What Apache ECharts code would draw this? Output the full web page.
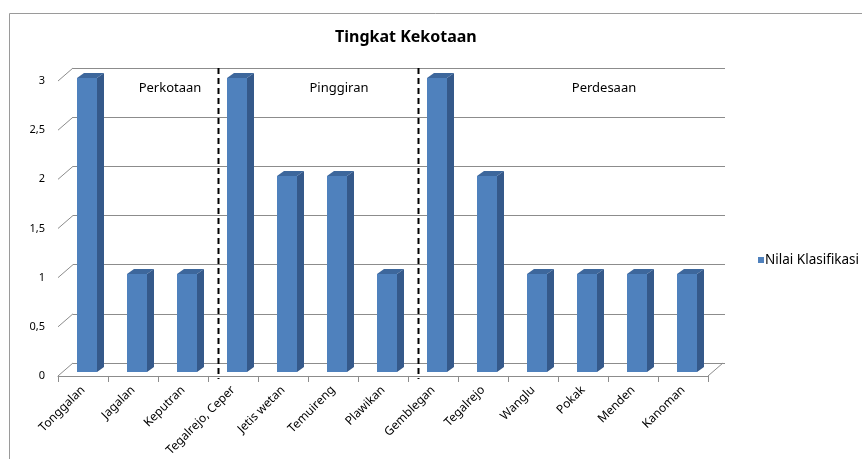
<!DOCTYPE html>
<html>
<head>
<meta charset="utf-8">
<script src="https://cdn.jsdelivr.net/npm/echarts@6/dist/echarts.min.js"></script>
<style>
html,body{margin:0;padding:0;background:#fff;}
#chart{width:862px;height:459px;}
</style>
</head>
<body>
<div id="chart"></div>
<script>
// ---- data ----
var categories = ['Tonggalan','Jagalan','Keputran','Tegalrejo, Ceper','Jetis wetan','Temuireng','Plawikan','Gemblegan','Tegalrejo','Wanglu','Pokak','Menden','Kanoman'];
var values = [3,1,1,3,2,2,1,3,2,1,1,1,1];
var seriesName = 'Nilai Klasifikasi';
var yTicks = [0,0.5,1,1.5,2,2.5,3];
var groupBoundaryAfter = [2, 6];          // dashed separator after these category indices
var groupNames = ['Perkotaan','Pinggiran','Perdesaan'];
var groupAnchorIndex = [2, 5, 10];
var groupAnchorShift = [-0.34, 0.04, 0.34];
var groupLabelValue = 2.9;
var chartTitle = 'Tingkat Kekotaan';

var FONT = '"Noto Sans", "Open Sans", sans-serif';
var DX = 7, DY = 5;       // bar depth
var WDX = 15, WDY = 13;   // wall depth

var chart = echarts.init(document.getElementById('chart'), null, {renderer:'canvas'});

var option = {
  animation: false,
  backgroundColor: '#ffffff',
  title: {
    text: chartTitle, left: 330, top: 24,
    textStyle: {fontFamily: FONT, fontSize: 16, fontWeight: 'bold', color: '#000'}
  },
  legend: {
    data: [seriesName], left: 753, top: 248, itemWidth: 6, itemHeight: 6, icon: 'rect',
    itemGap: 4,
    textStyle: {fontFamily: FONT, fontSize: 13.5, color: '#000', padding:[0,0,0,-4]}
  },
  graphic: [
    {type:'line', shape:{x1:9.5,y1:13.5,x2:862,y2:13.5}, style:{stroke:'#9a9a9a', lineWidth:1}, silent:true},
    {type:'line', shape:{x1:9.5,y1:13.5,x2:9.5,y2:459}, style:{stroke:'#9a9a9a', lineWidth:1}, silent:true}
  ],
  grid: [
    {left:73, top:68, width:652, height:295},   // back wall
    {left:62, top:78, width:650, height:294},   // bars (mid depth)
    {left:58, top:81, width:650, height:295}    // front plane axes
  ],
  xAxis: [
    {gridIndex:0, type:'category', data:categories, show:false},
    {gridIndex:1, type:'category', data:categories, show:false},
    {gridIndex:2, type:'category', data:categories,
      axisLine:{show:true, lineStyle:{color:'#8c8c8c', width:1}},
      axisTick:{show:true, length:6, lineStyle:{color:'#8c8c8c'}},
      axisLabel:{rotate:45, margin:12, fontFamily:FONT, fontSize:12, color:'#000', interval:0},
      splitLine:{show:false}}
  ],
  yAxis: [
    {gridIndex:0, type:'value', min:0, max:3, interval:0.5,
      axisLine:{show:false}, axisTick:{show:false}, axisLabel:{show:false},
      splitLine:{show:true, lineStyle:{color:'#8c8c8c', width:1}}},
    {gridIndex:1, type:'value', min:0, max:3, interval:0.5, show:false, splitLine:{show:false}},
    {gridIndex:2, type:'value', min:0, max:3, interval:0.5,
      axisLine:{show:false}, axisTick:{show:false}, splitLine:{show:false},
      axisLabel:{margin:13, fontFamily:FONT, fontSize:11, color:'#000',
        formatter:function(v){return String(v).replace('.', ',');}}}
  ],
  series: [
    // side walls / floor edges
    {type:'custom', name:'walls', xAxisIndex:2, yAxisIndex:2, silent:true, z:1,
      data: yTicks.map(function(v){return [0, v];}),
      renderItem: function(params, api){
        var cs = params.coordSys;
        var p = api.coord([0, api.value(1)]);
        var kids = [{type:'line', shape:{x1:cs.x, y1:p[1], x2:cs.x+WDX, y2:p[1]-WDY},
          style:{stroke:'#8c8c8c', lineWidth:1}}];
        if (api.value(1) === 0) {
          kids.push({type:'line', shape:{x1:cs.x+cs.width, y1:p[1], x2:cs.x+cs.width+WDX, y2:p[1]-WDY},
            style:{stroke:'#8c8c8c', lineWidth:1}});
        }
        return {type:'group', children:kids};
      }},
    // bars front face
    {type:'bar', name:seriesName, xAxisIndex:1, yAxisIndex:1, data:values, barWidth:20, z:3,
      itemStyle:{color:'#4F81BD'}},
    // bars side and top faces
    {type:'custom', name:'faces', xAxisIndex:1, yAxisIndex:1, silent:true, z:3,
      data: values.map(function(v,i){return [i, v];}),
      renderItem: function(params, api){
        var top = api.coord([api.value(0), api.value(1)]);
        var base = api.coord([api.value(0), 0]);
        var cx = top[0], hw = 10;
        return {type:'group', children:[
          {type:'polygon', shape:{points:[[cx+hw,top[1]],[cx+hw+DX,top[1]-DY],[cx+hw+DX,base[1]-DY],[cx+hw,base[1]]]},
            style:{fill:'#35598A'}},
          {type:'polygon', shape:{points:[[cx-hw,top[1]],[cx-hw+DX,top[1]-DY],[cx+hw+DX,top[1]-DY],[cx+hw,top[1]]]},
            style:{fill:'#3D679C'}}
        ]};
      }},
    // dashed group separators
    {type:'custom', name:'separators', xAxisIndex:1, yAxisIndex:1, silent:true, z:5,
      data: groupBoundaryAfter.map(function(i){return [i, 3];}),
      renderItem: function(params, api){
        var bw = api.size([1,0])[0];
        var t = api.coord([api.value(0), 3]);
        var b = api.coord([api.value(0), 0]);
        var x = Math.round(t[0] + bw/2 + 6) + 0.5;
        return {type:'line', shape:{x1:x, y1:t[1]-10, x2:x, y2:b[1]+7},
          style:{stroke:'#000', lineWidth:2, lineDash:[6,4]}};
      }},
    // group labels
    {type:'custom', name:'groups', xAxisIndex:1, yAxisIndex:1, silent:true, z:6,
      data: groupNames.map(function(n,i){return [groupAnchorIndex[i], groupLabelValue, groupAnchorShift[i], n];}),
      renderItem: function(params, api){
        var bw = api.size([1,0])[0];
        var p = api.coord([api.value(0), api.value(1)]);
        var idx = params.dataIndex;
        return {type:'text', style:{text:groupNames[idx], x:p[0] + groupAnchorShift[idx]*bw, y:p[1],
          fill:'#000', font:'13px ' + FONT, align:'center', verticalAlign:'middle'}};
      }}
  ]
};
chart.setOption(option);
</script>
</body>
</html>
